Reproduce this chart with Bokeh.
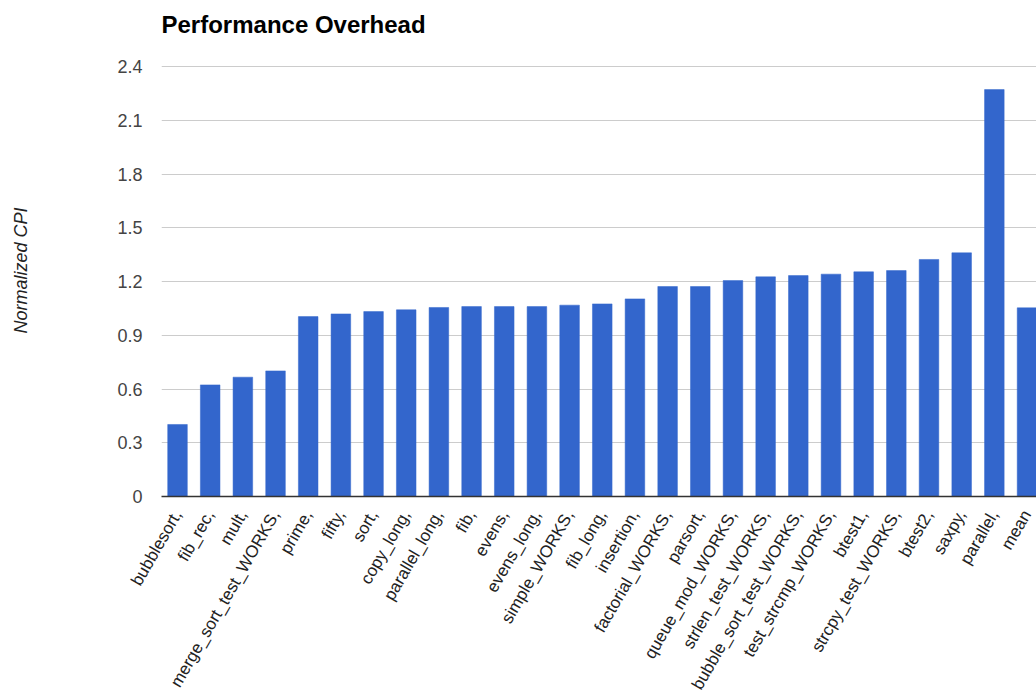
from bokeh.plotting import figure
from bokeh.models import Range1d, FixedTicker
from bokeh.embed import file_html
from bokeh.resources import INLINE
import math

categories = ["bubblesort,", "fib_rec,", "mult,", "merge_sort_test_WORKS,", "prime,",
              "fifty,", "sort,", "copy_long,", "parallel_long,", "fib,", "evens,",
              "evens_long,", "simple_WORKS,", "fib_long,", "insertion,",
              "factorial_WORKS,", "parsort,", "queue_mod_WORKS,", "strlen_test_WORKS,",
              "bubble_sort_test_WORKS,", "test_strcmp_WORKS,", "btest1,",
              "strcpy_test_WORKS,", "btest2,", "saxpy,", "parallel,", "mean"]
values = [0.402, 0.623, 0.666, 0.701, 1.004, 1.019, 1.032, 1.042, 1.055, 1.060, 1.060,
          1.060, 1.068, 1.075, 1.103, 1.172, 1.172, 1.205, 1.226, 1.233, 1.241, 1.254,
          1.261, 1.323, 1.360, 2.271, 1.053]
y_ticks = [0, 0.3, 0.6, 0.9, 1.2, 1.5, 1.8, 2.1, 2.4]
y_tick_labels = ["0", "0.3", "0.6", "0.9", "1.2", "1.5", "1.8", "2.1", "2.4"]

FONT = "Liberation Sans"
idx = list(range(len(categories)))

# frame spans y=44..496 px; 0..2.4 occupies the lower 430 px
y_end = 2.4 * 452 / 430

p = figure(width=1036, height=700, output_backend="svg", toolbar_location=None,
           x_range=Range1d(-0.49, 26.29), y_range=Range1d(0, y_end),
           min_border_left=161, min_border_right=0, min_border_top=44,
           min_border_bottom=0, title="Performance Overhead")
p.vbar(x=idx, top=values, width=0.6, bottom=0,
       fill_color="#3366cc", line_color="#3366cc", line_width=0.5)

p.title.text_font = FONT
p.title.text_font_size = "24px"
p.title.text_font_style = "bold"
p.title.text_color = "#000000"
p.title.align = "left"
p.title.offset = 0
p.title.standoff = 14

p.outline_line_color = None
p.background_fill_color = "white"
p.border_fill_color = "white"

p.xgrid.grid_line_color = None
p.ygrid.grid_line_color = "#cccccc"
p.ygrid.grid_line_width = 1

xa = p.xaxis[0]
xa.ticker = FixedTicker(ticks=idx)
xa.major_label_overrides = {i: c for i, c in zip(idx, categories)}
xa.major_label_orientation = math.pi / 3
xa.major_label_text_font = FONT
xa.major_label_text_font_size = "17px"
xa.major_label_text_color = "#222222"
xa.major_label_standoff = 9
xa.major_tick_line_color = None
xa.minor_tick_line_color = None
xa.axis_line_color = "#333333"
xa.axis_line_width = 1.5

ya = p.yaxis[0]
ya.ticker = FixedTicker(ticks=y_ticks)
ya.major_label_overrides = {t: l for t, l in zip(y_ticks, y_tick_labels)}
ya.major_label_text_font = FONT
ya.major_label_text_font_size = "18px"
ya.major_label_text_color = "#444444"
ya.major_label_standoff = 13
ya.major_tick_line_color = None
ya.minor_tick_line_color = None
ya.axis_line_color = None
ya.axis_label = "Normalized CPI"
ya.axis_label_text_font = FONT
ya.axis_label_text_font_size = "18px"
ya.axis_label_text_font_style = "italic"
ya.axis_label_text_color = "#222222"
ya.axis_label_standoff = 83

open("out.html", "w").write(file_html(p, INLINE))
